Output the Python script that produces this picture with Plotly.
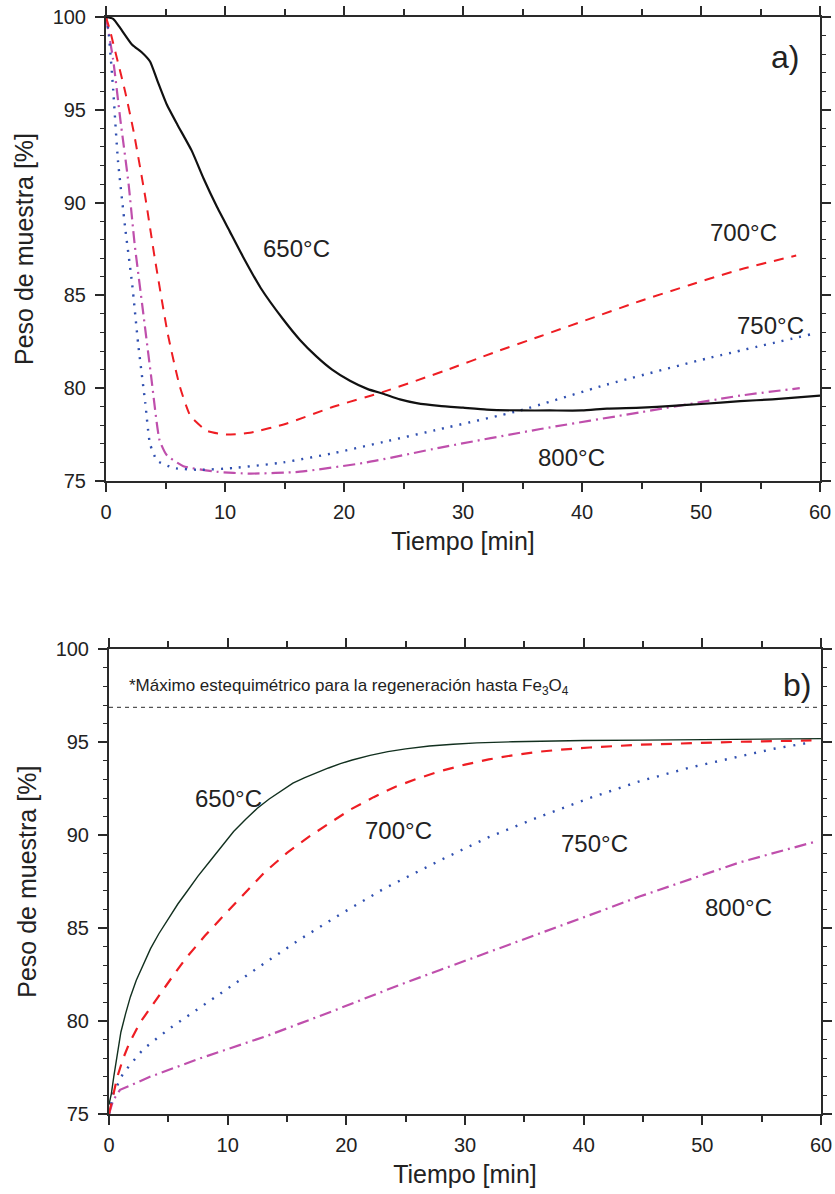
import plotly.graph_objects as go

# ---------------- Panel a) data ----------------
t650a = [0, 0.6, 1.2, 2.2, 3.0, 3.7, 4.3, 5.1, 6.0, 7.2, 8.2, 9.3, 10.4, 11.5, 13.0, 14.9, 16.3,
         17.7, 19.0, 20.5, 22.0, 23.3, 24.7, 26.1, 28.0, 30.0, 32.0, 34.8, 37.3, 40, 42.1, 45,
         47.6, 50, 53.3, 56, 60]
w650a = [100, 99.9, 99.4, 98.5, 98.1, 97.6, 96.6, 95.3, 94.2, 92.8, 91.3, 89.8, 88.45, 87.1,
         85.4, 83.7, 82.6, 81.7, 81.0, 80.4, 79.95, 79.7, 79.4, 79.2, 79.05, 78.95, 78.85, 78.8,
         78.8, 78.8, 78.9, 78.95, 79.05, 79.15, 79.3, 79.4, 79.6]

t700a = [0, 0.33, 0.6, 1.6, 2.3, 3.3, 4.1, 5.2, 6.2, 7.1, 8.5, 10.1, 12.1, 15.2, 19.1, 23.3,
         28.5, 32.5, 36.5, 40.7, 44.9, 49, 53.3, 58.0]
w700a = [100, 99.3, 98.6, 96.0, 93.9, 90.3, 87.0, 82.9, 80.1, 78.5, 77.7, 77.5, 77.6, 78.1,
         79.0, 79.8, 80.95, 81.9, 82.8, 83.75, 84.7, 85.55, 86.4, 87.15]

t750a = [0, 0.2, 0.6, 1.0, 1.6, 2.2, 2.7, 3.3, 3.7, 4.3, 5.7, 7.9, 10.7, 14.9, 19.1, 23.3,
         28.1, 34.8, 42.1, 50.5, 59.2]
w750a = [100, 99.3, 96.1, 92.3, 88.7, 85.6, 82.4, 79.2, 77.0, 76.1, 75.7, 75.6, 75.7, 76.0,
         76.5, 77.1, 77.8, 78.8, 80.2, 81.6, 82.9]

t800a = [0, 0.6, 1.2, 1.9, 2.4, 3.1, 3.8, 4.5, 5.1, 6.5, 9.3, 12.1, 16.3, 21.9, 28.1, 36.5,
         44.9, 53.3, 58.3]
w800a = [100, 97.7, 94.5, 91.0, 87.8, 84.2, 80.6, 77.2, 76.4, 75.8, 75.5, 75.4, 75.5, 76.0,
         76.8, 77.8, 78.7, 79.6, 80.0]

# ---------------- Panel b) data ----------------
t650b = [0, 0.2, 0.4, 0.7, 1.0, 1.4, 1.8, 2.3, 2.9, 3.5, 4.2, 5.0, 5.8, 6.6, 7.5, 8.5, 9.5,
         10.5, 11.5, 12.5, 13.5, 14.5, 15.5, 16.5, 17.5, 18.5, 19.5, 20.5, 22, 23.5, 25, 27,
         29, 31, 34, 37, 40, 45, 50, 55, 60]
w650b = [75.5, 76.1, 77.0, 78.2, 79.4, 80.4, 81.3, 82.2, 83.1, 83.9, 84.7, 85.5, 86.3, 87.0,
         87.8, 88.6, 89.4, 90.2, 90.85, 91.45, 91.95, 92.4, 92.8, 93.1, 93.37, 93.62, 93.85,
         94.05, 94.3, 94.5, 94.65, 94.8, 94.9, 94.97, 95.03, 95.07, 95.1, 95.12, 95.14, 95.17,
         95.2]

t700b = [0, 0.3, 0.7, 1.2, 1.7, 2.6, 3.9, 5.3, 6.5, 8.1, 9.7, 11.3, 13.1, 15.0, 16.8, 18.7,
         20.4, 22.3, 24.1, 26.0, 27.9, 30, 32, 34, 36.3, 38.4, 40.5, 44.7, 49, 53.2, 59.2]
w700b = [75, 75.9, 77.0, 78.0, 78.8, 79.9, 81.1, 82.35, 83.4, 84.6, 85.7, 86.8, 88.0, 89.05,
         89.9, 90.7, 91.4, 92.05, 92.6, 93.05, 93.45, 93.8, 94.08, 94.3, 94.5, 94.62, 94.72,
         94.87, 94.97, 95.03, 95.1]

t750b = [0, 0.36, 1.2, 2.9, 5.1, 7.7, 10.5, 13.3, 16.1, 19.5, 23.1, 27.9, 32, 36.3, 40.5,
         44.7, 49, 53.2, 56, 59.2]
w750b = [75, 76.1, 77.2, 78.5, 79.6, 80.75, 82.0, 83.2, 84.4, 85.75, 87.1, 88.65, 89.9, 91.0,
         92.0, 92.9, 93.65, 94.25, 94.65, 95.0]

t800b = [0, 0.36, 0.93, 3.45, 7.7, 13.3, 18.9, 24.5, 27.9, 32, 36.3, 40.5, 44.7, 49, 53.2, 59.5]
w800b = [75, 75.75, 76.3, 77.0, 78.0, 79.2, 80.55, 81.95, 82.75, 83.7, 84.7, 85.7, 86.7, 87.65,
         88.55, 89.65]

max_esteq = 96.88
x_range = [0, 60]
y_range = [75, 100]

FONT = "Arial, Liberation Sans, sans-serif"
AX = "#2a2a2a"

RED = "#ee1d23"
BLUE = "#3050b0"
MAG = "#bf4fac"

fig = go.Figure()

def add(t, w, color, width, dash, xa, ya, shape="spline"):
    line = dict(color=color, width=width, dash=dash, shape=shape)
    if shape == "spline":
        line["smoothing"] = 0.5
    fig.add_trace(go.Scatter(x=t, y=w, mode="lines", xaxis=xa, yaxis=ya, showlegend=False,
                             line=line))

# panel a
add(t800a, w800a, MAG, 2.2, "12px,5px,2px,5px", "x", "y")
add(t750a, w750a, BLUE, 2.4, "2px,7px", "x", "y")
add(t700a, w700a, RED, 2.0, "10px,8px", "x", "y")
add(t650a, w650a, "#111111", 2.2, "solid", "x", "y")

# panel b
fig.add_trace(go.Scatter(x=x_range, y=[max_esteq, max_esteq], mode="lines", xaxis="x2",
                         yaxis="y2", showlegend=False,
                         line=dict(color="#555555", width=1.2, dash="4px,4px")))
add(t800b, w800b, MAG, 2.2, "12px,5px,2px,5px", "x2", "y2", "linear")
add(t750b, w750b, BLUE, 2.4, "2px,8px", "x2", "y2", "linear")
add(t700b, w700b, RED, 2.2, "11px,9px", "x2", "y2", "linear")
add(t650b, w650b, "#12301f", 1.4, "solid", "x2", "y2", "linear")

def xaxis(domain, anchor):
    return dict(domain=domain, anchor=anchor, range=x_range, dtick=10, tick0=0,
                automargin=False,
                ticks="outside", ticklen=9, tickwidth=2, tickcolor=AX, ticklabelstandoff=3,
                minor=dict(dtick=5, ticks="outside", ticklen=6, tickwidth=1.6, tickcolor=AX),
                showline=True, linewidth=2, linecolor=AX, mirror="ticks",
                showgrid=False, zeroline=False,
                tickfont=dict(family=FONT, size=20, color="#222"),
                title=dict(text="Tiempo [min]", font=dict(family=FONT, size=25, color="#222"),
                           standoff=10))

def yaxis(domain, anchor):
    return dict(domain=domain, anchor=anchor, range=y_range, dtick=5, tick0=75,
                automargin=False,
                ticks="outside", ticklen=9, tickwidth=2, tickcolor=AX, ticklabelstandoff=5,
                minor=dict(dtick=1, ticks="outside", ticklen=4, tickwidth=1.4, tickcolor=AX),
                showline=True, linewidth=2, linecolor=AX, mirror="ticks",
                showgrid=False, zeroline=False,
                tickfont=dict(family=FONT, size=20, color="#222"),
                title=dict(text="Peso de muestra [%]", font=dict(family=FONT, size=25, color="#222"),
                           standoff=12))

fig.update_layout(
    width=835, height=1194,
    margin=dict(l=0, r=0, t=0, b=0),
    paper_bgcolor="white", plot_bgcolor="white",
    font=dict(family=FONT, color="#222"),
    xaxis=xaxis([106 / 835, 820 / 835], "y"),
    yaxis=yaxis([1 - 481 / 1194, 1 - 17 / 1194], "x"),
    xaxis2=xaxis([109 / 835, 821 / 835], "y2"),
    yaxis2=yaxis([1 - 1114 / 1194, 1 - 649.4 / 1194], "x2"),
)

def label(x, y, text, xref, yref, size=24, xanchor="center"):
    fig.add_annotation(x=x, y=y, xref=xref, yref=yref, text=text, showarrow=False,
                       xanchor=xanchor, yanchor="middle",
                       font=dict(family=FONT, size=size, color="#222"))

label(16.0, 87.55, "650°C", "x", "y")
label(53.6, 88.4, "700°C", "x", "y")
label(55.8, 83.4, "750°C", "x", "y")
label(39.1, 76.27, "800°C", "x", "y")
label(57.1, 97.85, "a)", "x", "y", size=32)

label(10.1, 91.96, "650°C", "x2", "y2")
label(24.4, 90.23, "700°C", "x2", "y2")
label(40.9, 89.58, "750°C", "x2", "y2")
label(53.06, 86.12, "800°C", "x2", "y2")
label(58.0, 98.08, "b)", "x2", "y2", size=32)
label(1.55, 97.98, "*Máximo estequimétrico para la regeneración hasta Fe<sub>3</sub>O<sub>4</sub>",
      "x2", "y2", size=17, xanchor="left")

fig.write_html("out.html")
